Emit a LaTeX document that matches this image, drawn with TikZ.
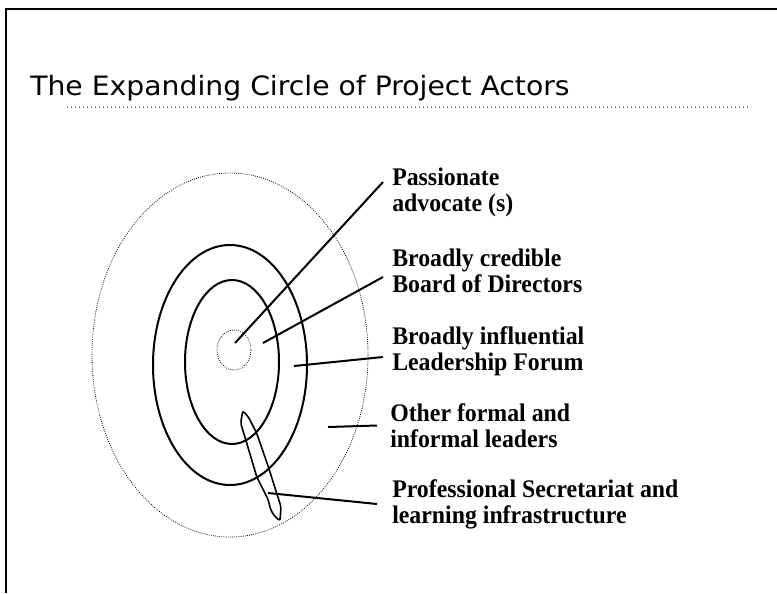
\documentclass[tikz,border=0pt]{standalone}
\usepackage{fontspec}
\usepackage{tikz}
\usetikzlibrary{shapes, positioning}
\newfontfamily\titlefont[FakeStretch=1.06]{DejaVu Sans}
\newfontfamily\labelfont[FakeStretch=0.94]{Liberation Serif}

\begin{document}
\begin{tikzpicture}[x=0.75pt, y=-0.75pt,
        ring/.style={line width=1.5pt},
        faint/.style={line width=0.6pt, densely dotted},
        lead/.style={line width=1.5pt},
        actor/.style={anchor=west, align=left, inner xsep=6.75pt, inner ysep=0pt,
            font=\labelfont\bfseries\fontsize{19}{19.5}\selectfont}]
        \useasboundingbox (0, 0) rectangle (777, 593);
        \draw[line width=1.5pt] (6, 593) -- (6, 9) -- (777, 9);
        \node[anchor=base west, inner sep=0pt, font=\titlefont\fontsize{20}{24}\selectfont] (title) at (30, 95) {The Expanding Circle of Project Actors};
        \draw[gray, line width=1pt, dotted] (67, 107) -- (750, 107);

        \draw[faint] (230, 355) ellipse [x radius=138, y radius=182];
        \draw[ring] (230, 365) ellipse [x radius=77, y radius=120];
        \draw[ring] (232, 362) ellipse [x radius=47, y radius=82];
        \draw[faint] (234, 350) ellipse [x radius=17, y radius=20];
        \draw[line width=1.2pt, rounded corners=1.5pt] (242.7, 411) -- (240.7, 423) -- (246.7, 443) -- (256.7, 476.7) -- (268.3, 500) -- (270.7, 510) -- (275, 516.7) -- (280, 520.7) -- (281, 506.7) -- (276.7, 493.3) -- (268.3, 466.7) -- (256.7, 433.3) -- (248.3, 416.7) -- cycle;

        \coordinate (core) at (235, 343);
        \coordinate (board in) at (263, 343);
        \coordinate (forum in) at (294, 366);
        \coordinate (others in) at (328, 427);
        \coordinate (secr in) at (268, 493);

        \node[actor] (adv) at (383, 192) {Passionate\\advocate (s)};
        \node[actor] (board) at (383, 271) {Broadly credible\\Board of Directors};
        \node[actor] (forum) at (383, 351) {Broadly influential\\Leadership Forum};
        \node[actor] (others) at (381, 425.5) {Other formal and\\informal leaders};
        \node[actor] (secr) at (383, 504) {Professional Secretariat and\\learning infrastructure};

        \draw[lead] (core) -- ([yshift=7.5pt]adv.west);
        \draw[lead] (board in) -- ([yshift=-4.5pt]board.west);
        \draw[lead] (forum in) -- ([yshift=-4.5pt]forum.west);
        \draw[lead] (others in) -- ([xshift=-3pt]others.west);
        \draw[lead] (secr in) -- ([xshift=-4.5pt]secr.west);
    \end{tikzpicture}
\end{document}
